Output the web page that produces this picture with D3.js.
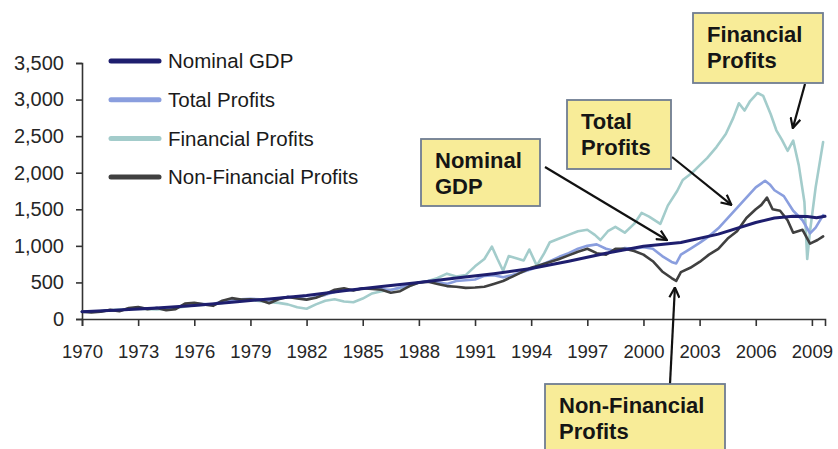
<!DOCTYPE html>
<html><head><meta charset="utf-8">
<script src="https://cdn.jsdelivr.net/npm/d3@7"></script>
<style>body{margin:0;background:#fff}svg{display:block}text{font-family:Arial,"Liberation Sans",sans-serif}</style>
</head><body><svg id="c" width="838" height="449"></svg>
<script>
// ---------- DATA ----------
const xTicks = [1970,1973,1976,1979,1982,1985,1988,1991,1994,1997,2000,2003,2006,2009];
const yTicks = [0,500,1000,1500,2000,2500,3000,3500];

const gdpYears  = [1970,1972,1974,1976,1978,1980,1982,1984,1986,1988,1990,1992,1994,1996,1998,2000,2002,2004,2006,2007,2008,2008.75,2009.25,2009.7];
const gdpValues = [100,122,150,185,230,275,320,385,445,500,560,620,690,790,900,995,1045,1160,1320,1380,1405,1400,1385,1405];

const totalYears  = [1970,1970.5,1971,1971.5,1972,1972.5,1973,1973.5,1974,1974.5,1975,1975.5,1976,1976.5,1977,1977.5,1978,1978.5,1979,1979.5,1980,1980.5,1981,1981.5,1982,1982.5,1983,1983.5,1984,1984.5,1985,1985.5,1986,1986.5,1987,1987.5,1988,1988.5,1989,1989.5,1990,1990.5,1991,1991.5,1992,1992.5,1993,1993.5,1994,1994.5,1995,1995.5,1996,1996.5,1997,1997.5,1998,1998.5,1999,1999.5,2000,2000.5,2001,2001.5,2001.75,2002,2002.5,2003,2003.5,2004,2004.5,2005,2005.5,2006,2006.5,2006.75,2007,2007.5,2008,2008.5,2008.9,2009.2,2009.6];
const totalValues = [100,95,105,120,118,140,155,140,150,130,150,195,210,205,200,245,265,270,275,270,250,280,305,290,270,300,330,370,400,395,420,420,410,395,430,470,500,520,500,480,520,530,540,590,600,570,600,640,680,740,790,850,900,960,1000,1020,960,930,970,960,980,960,860,780,760,880,960,1040,1130,1240,1380,1520,1660,1800,1890,1840,1760,1680,1480,1350,1170,1250,1420];

const finYears  = [1970,1971,1972,1973,1974,1975,1976,1977,1978,1979,1980,1980.5,1981,1981.5,1982,1982.5,1983,1983.5,1984,1984.5,1985,1985.5,1986,1986.5,1987,1987.5,1988,1988.5,1989,1989.5,1990,1990.5,1991,1991.5,1991.9,1992.2,1992.5,1992.8,1993.2,1993.6,1993.9,1994.3,1994.7,1995,1995.5,1996,1996.5,1997,1997.4,1997.7,1998.1,1998.5,1999,1999.5,1999.9,2000.3,2000.9,2001.3,2001.8,2002.1,2002.6,2003,2003.4,2003.9,2004.4,2004.8,2005.1,2005.4,2005.7,2006.1,2006.4,2006.8,2007.1,2007.4,2007.7,2008,2008.3,2008.6,2008.75,2008.9,2009.2,2009.6];
const finValues = [100,110,130,140,130,150,190,200,240,260,230,220,200,160,140,200,250,270,240,230,280,350,380,400,420,450,500,520,560,620,580,600,720,820,990,820,660,860,830,800,950,730,900,1050,1100,1150,1200,1220,1150,1080,1200,1260,1180,1300,1450,1400,1300,1550,1750,1900,2000,2100,2200,2350,2530,2750,2950,2850,2980,3090,3050,2800,2580,2450,2300,2440,2100,1600,820,1200,1800,2420];

const nonFinYears  = [1970,1970.5,1971,1971.5,1972,1972.5,1973,1973.5,1974,1974.5,1975,1975.5,1976,1976.5,1977,1977.5,1978,1978.5,1979,1979.5,1980,1980.5,1981,1981.5,1982,1982.5,1983,1983.5,1984,1984.5,1985,1985.5,1986,1986.5,1987,1987.5,1988,1988.5,1989,1989.5,1990,1990.5,1991,1991.5,1992,1992.5,1993,1993.5,1994,1994.5,1995,1995.5,1996,1996.5,1997,1997.5,1998,1998.5,1999,1999.5,2000,2000.5,2001,2001.5,2001.75,2002,2002.5,2003,2003.5,2004,2004.5,2005,2005.5,2006,2006.3,2006.6,2006.9,2007.3,2007.7,2008,2008.5,2008.9,2009.3,2009.6];
const nonFinValues = [100,90,100,125,105,150,165,135,150,120,135,210,220,200,180,250,285,265,270,260,215,270,300,280,265,290,340,400,420,390,420,410,400,360,380,450,500,510,480,450,440,425,430,440,480,520,580,640,700,740,780,820,870,920,960,900,880,960,960,930,880,790,650,560,520,640,700,780,880,960,1100,1200,1380,1500,1560,1660,1500,1480,1350,1180,1220,1030,1080,1130];

const seriesNames  = ["Nominal GDP","Total Profits","Financial Profits","Non-Financial Profits"];
const seriesColors = ["#1e1e6e","#8a9ede","#a3cccb","#404040"];

// callouts: box (layout, px) + arrow tip in data coordinates
const callouts = [
  {lines:["Nominal","GDP"], box:[421,139,119,67], from:[545,167], tip:[2001.25,1080]},
  {lines:["Total","Profits"], box:[567,100,104,69], from:[672,157], tip:[2004.7,1560]},
  {lines:["Financial","Profits"], box:[693,13,130,70], from:[805,84], tip:[2007.98,2610]},
  {lines:["Non-Financial","Profits"], box:[545,384,180,80], from:[670,384], tip:[2001.68,430]}
];

// ---------- CHART ----------
const svg = d3.select("#c");
const x = d3.scaleLinear().domain([1970, 2009.7]).range([82, 825]);
const y = d3.scaleLinear().domain([0, 3500]).range([319, 63]);

const fmt = d3.format(",");
const yAxis = svg.append("g").attr("transform","translate(82,0)")
  .call(d3.axisLeft(y).tickValues(yTicks).tickFormat(fmt).tickSize(6).tickPadding(12));
const xAxis = svg.append("g").attr("transform","translate(0,319)")
  .call(d3.axisBottom(x).tickValues(xTicks).tickFormat(d3.format("d")).tickSize(7).tickPadding(19));
[yAxis,xAxis].forEach(a=>{
  a.select(".domain").attr("stroke","#333").attr("stroke-width",1.6);
  a.selectAll(".tick line").attr("stroke","#333").attr("stroke-width",1.6);
  a.selectAll(".tick text").attr("fill","#262626").style("font-family","Arial, 'Liberation Sans', sans-serif");
});
yAxis.selectAll(".tick text").style("font-size","20px");
xAxis.selectAll(".tick text").style("font-size","18.5px");

const line = d3.line().x(d=>x(d[0])).y(d=>y(d[1]));
const series = [
  {i:2, ys:finYears, vs:finValues, w:2.6},
  {i:1, ys:totalYears, vs:totalValues, w:2.6},
  {i:3, ys:nonFinYears, vs:nonFinValues, w:2.6},
  {i:0, ys:gdpYears, vs:gdpValues, w:3}
];
series.forEach(s=>{
  svg.append("path").datum(d3.zip(s.ys, s.vs))
    .attr("d", line).attr("fill","none")
    .attr("stroke", seriesColors[s.i]).attr("stroke-width", s.w)
    .attr("stroke-linejoin","round").attr("stroke-linecap","round");
});

// legend
const lg = svg.append("g");
seriesNames.forEach((n,i)=>{
  const yy = 61 + i*38.7;
  lg.append("line").attr("x1",111).attr("x2",159).attr("y1",yy).attr("y2",yy)
    .attr("stroke",seriesColors[i]).attr("stroke-width",5).attr("stroke-linecap","round");
  lg.append("text").attr("x",168).attr("y",yy).attr("dy","0.35em")
    .attr("fill","#1a1a1a").style("font-size","20.5px").text(n);
});

// arrow marker
svg.append("defs").append("marker").attr("id","ah")
  .attr("viewBox","0 0 12 12").attr("refX",11).attr("refY",6)
  .attr("markerWidth",12).attr("markerHeight",12).attr("markerUnits","userSpaceOnUse")
  .attr("orient","auto")
  .append("path").attr("d","M1,1 L11,6 L1,11").attr("fill","none")
  .attr("stroke","#111").attr("stroke-width",2.2).attr("stroke-linejoin","miter");

callouts.forEach(c=>{
  svg.append("line").attr("x1",c.from[0]).attr("y1",c.from[1])
    .attr("x2",x(c.tip[0])).attr("y2",y(c.tip[1]))
    .attr("stroke","#111").attr("stroke-width",2.2).attr("marker-end","url(#ah)");
  svg.append("rect").attr("x",c.box[0]).attr("y",c.box[1]).attr("width",c.box[2]).attr("height",c.box[3])
    .attr("fill","#f8ec98").attr("stroke","#6f7d92").attr("stroke-width",1.8);
  c.lines.forEach((t,j)=>{
    svg.append("text").attr("x",c.box[0]+14).attr("y",c.box[1]+29+j*26)
      .attr("fill","#151515").style("font-size","22px").style("font-weight","bold").text(t);
  });
});
</script></body></html>
